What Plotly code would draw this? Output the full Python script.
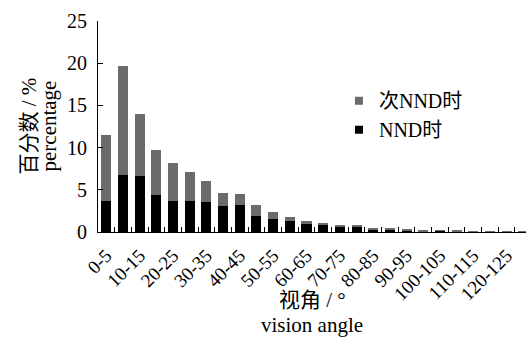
import plotly.graph_objects as go

# Vision-angle bins (degrees)
categories = ["0-5", "5-10", "10-15", "15-20", "20-25", "25-30", "30-35", "35-40",
              "40-45", "45-50", "50-55", "55-60", "60-65", "65-70", "70-75", "75-80",
              "80-85", "85-90", "90-95", "95-100", "100-105", "105-110", "110-115",
              "115-120", "120-125", "125-130"]

# Percentage at the nearest-neighbour distance (NND时)
nnd = [3.7, 6.7, 6.6, 4.4, 3.7, 3.7, 3.5, 3.1, 3.2, 1.9, 1.5, 1.35, 0.9, 0.8,
       0.55, 0.65, 0.32, 0.32, 0.2, 0.1, 0.12, 0.05, 0.03, 0.0, 0.0, 0.0]

# Percentage at the second nearest-neighbour distance (次NND时), stacked on top
sub_nnd = [7.8, 13.0, 7.4, 5.3, 4.5, 3.4, 2.55, 1.55, 1.3, 1.3, 0.9, 0.4, 0.4, 0.25,
           0.25, 0.15, 0.11, 0.11, 0.12, 0.12, 0.1, 0.1, 0.07, 0.08, 0.08, 0.1]

y_ticks = [0, 5, 10, 15, 20, 25]

SERIF = "'Liberation Serif', 'Noto Sans CJK SC', serif"
GRAY = "#6b6b6b"
idx = list(range(len(categories)))

fig = go.Figure()
fig.add_trace(go.Bar(x=idx, y=nnd, marker=dict(color="black", line=dict(width=0)),
                     showlegend=False, name="NND时"))
fig.add_trace(go.Bar(x=idx, y=sub_nnd, marker=dict(color=GRAY, line=dict(width=0)),
                     showlegend=False, name="次NND时"))

# legend entries with small square swatches
fig.add_trace(go.Scatter(x=[None], y=[None], mode="markers", name="次NND时",
                         legendgroup="a",
                         marker=dict(symbol="square", size=8, color=GRAY)))
fig.add_trace(go.Scatter(x=[None], y=[None], mode="markers", name="NND时",
                         legendgroup="b",
                         marker=dict(symbol="square", size=8, color="black")))

fig.update_layout(
    width=526, height=340,
    margin=dict(l=98, r=0, t=21, b=108),
    paper_bgcolor="white", plot_bgcolor="white",
    barmode="stack", bargap=0.4,
    font=dict(family=SERIF, size=20, color="black"),
    showlegend=True,
    legend=dict(x=0.563, y=0.715, xanchor="left", yanchor="top",
                traceorder="grouped", tracegroupgap=0,
                bgcolor="rgba(0,0,0,0)", font=dict(family=SERIF, size=20),
                itemwidth=30),
)

fig.update_xaxes(
    range=[-0.5, len(categories) - 0.84],
    tickmode="array", tickvals=idx[::2], ticktext=categories[::2],
    tickangle=-45, ticks="", ticklabelstandoff=4,
    tickfont=dict(family=SERIF, size=19),
    minor=dict(tickmode="array", tickvals=[i + 0.5 for i in idx[:-1]],
               ticks="inside", ticklen=5, tickcolor="black", tickwidth=1),
    showline=True, linecolor="black", linewidth=1,
    showgrid=False, zeroline=False,
)
fig.update_yaxes(
    range=[0, 25], tickmode="array", tickvals=y_ticks,
    ticks="inside", ticklen=5, tickcolor="black", tickwidth=1,
    ticklabelstandoff=6,
    tickfont=dict(family=SERIF, size=20),
    showline=True, linecolor="black", linewidth=1,
    showgrid=False, zeroline=False,
)

# axis titles: Chinese line and English line
title_font = dict(family=SERIF, size=21)
fig.add_annotation(text="百分数 / %", xref="paper", yref="paper",
                   x=0, y=0.5, xanchor="center", yanchor="middle", xshift=-70,
                   textangle=-90, showarrow=False, font=title_font)
fig.add_annotation(text="percentage", xref="paper", yref="paper",
                   x=0, y=0.5, xanchor="center", yanchor="middle", xshift=-50,
                   textangle=-90, showarrow=False, font=title_font)
fig.add_annotation(text="视角 / °", xref="paper", yref="paper",
                   x=0.5, y=0, xanchor="center", yanchor="middle", yshift=-68,
                   showarrow=False, font=title_font)
fig.add_annotation(text="vision angle", xref="paper", yref="paper",
                   x=0.5, y=0, xanchor="center", yanchor="middle", yshift=-93,
                   showarrow=False, font=title_font)

fig.write_html("out.html")
